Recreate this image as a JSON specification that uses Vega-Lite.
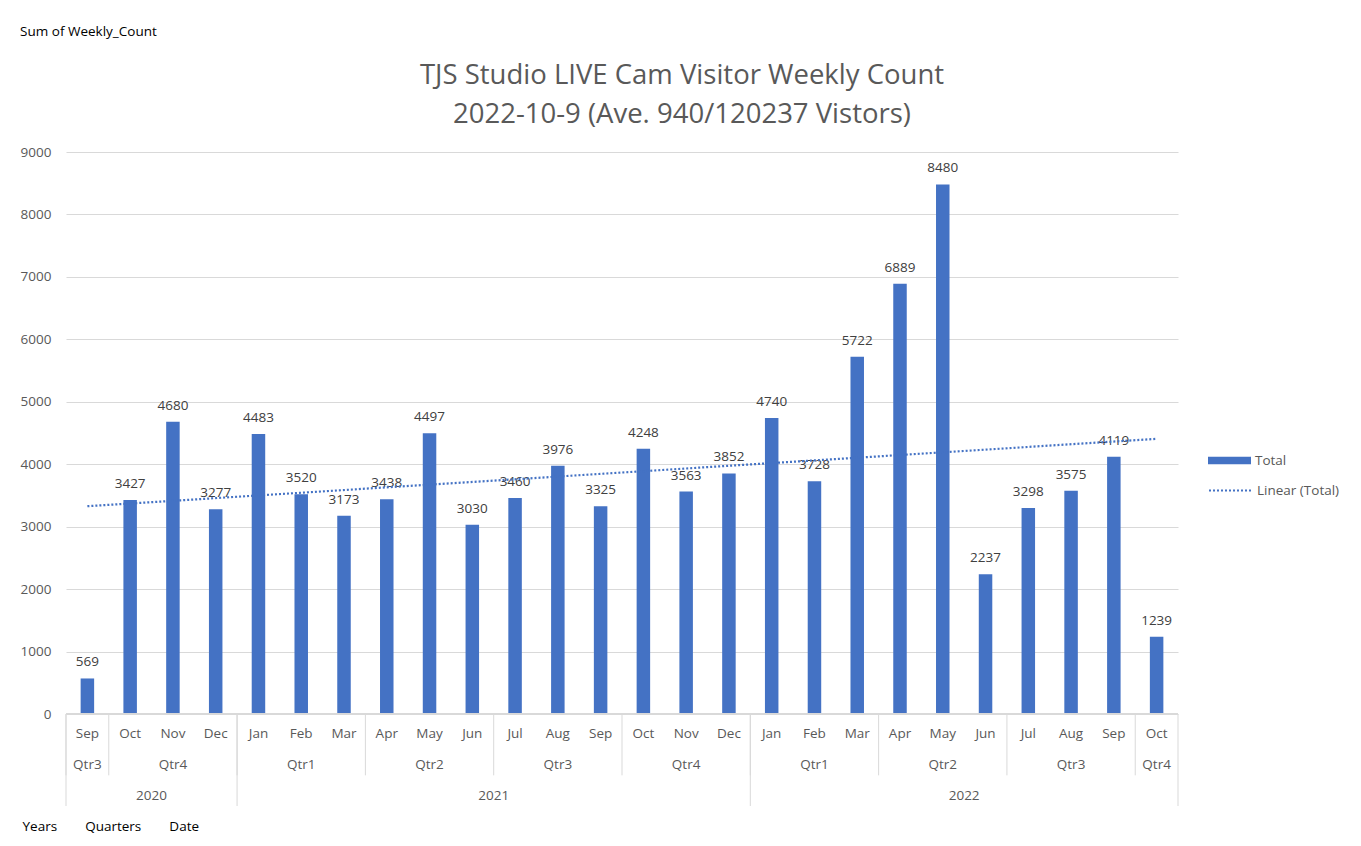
{
  "$schema": "https://vega.github.io/schema/vega-lite/v6.json",
  "background": "white",
  "padding": {"left": 20, "top": 25, "right": 5, "bottom": 5},
  "title": {"text": "Sum of Weekly_Count", "anchor": "start", "frame": "bounds", "fontSize": 13.5, "fontWeight": "normal", "color": "#000000", "font": "Open Sans", "offset": 23},
  "datasets": {
    "months": [
      {"i": 1, "month": "Sep", "quarter": "Qtr3", "year": "2020", "value": 569},
      {"i": 2, "month": "Oct", "quarter": "Qtr4", "year": "2020", "value": 3427},
      {"i": 3, "month": "Nov", "quarter": "Qtr4", "year": "2020", "value": 4680},
      {"i": 4, "month": "Dec", "quarter": "Qtr4", "year": "2020", "value": 3277},
      {"i": 5, "month": "Jan", "quarter": "Qtr1", "year": "2021", "value": 4483},
      {"i": 6, "month": "Feb", "quarter": "Qtr1", "year": "2021", "value": 3520},
      {"i": 7, "month": "Mar", "quarter": "Qtr1", "year": "2021", "value": 3173},
      {"i": 8, "month": "Apr", "quarter": "Qtr2", "year": "2021", "value": 3438},
      {"i": 9, "month": "May", "quarter": "Qtr2", "year": "2021", "value": 4497},
      {"i": 10, "month": "Jun", "quarter": "Qtr2", "year": "2021", "value": 3030},
      {"i": 11, "month": "Jul", "quarter": "Qtr3", "year": "2021", "value": 3460},
      {"i": 12, "month": "Aug", "quarter": "Qtr3", "year": "2021", "value": 3976},
      {"i": 13, "month": "Sep", "quarter": "Qtr3", "year": "2021", "value": 3325},
      {"i": 14, "month": "Oct", "quarter": "Qtr4", "year": "2021", "value": 4248},
      {"i": 15, "month": "Nov", "quarter": "Qtr4", "year": "2021", "value": 3563},
      {"i": 16, "month": "Dec", "quarter": "Qtr4", "year": "2021", "value": 3852},
      {"i": 17, "month": "Jan", "quarter": "Qtr1", "year": "2022", "value": 4740},
      {"i": 18, "month": "Feb", "quarter": "Qtr1", "year": "2022", "value": 3728},
      {"i": 19, "month": "Mar", "quarter": "Qtr1", "year": "2022", "value": 5722},
      {"i": 20, "month": "Apr", "quarter": "Qtr2", "year": "2022", "value": 6889},
      {"i": 21, "month": "May", "quarter": "Qtr2", "year": "2022", "value": 8480},
      {"i": 22, "month": "Jun", "quarter": "Qtr2", "year": "2022", "value": 2237},
      {"i": 23, "month": "Jul", "quarter": "Qtr3", "year": "2022", "value": 3298},
      {"i": 24, "month": "Aug", "quarter": "Qtr3", "year": "2022", "value": 3575},
      {"i": 25, "month": "Sep", "quarter": "Qtr3", "year": "2022", "value": 4119},
      {"i": 26, "month": "Oct", "quarter": "Qtr4", "year": "2022", "value": 1239}
    ]
  },
  "data": {"name": "months"},
  "spacing": 0,
  "bounds": "flush",
  "resolve": {"legend": {"color": "independent", "strokeDash": "independent"}},
  "vconcat": [
    {
      "width": 1112,
      "height": 562,
      "title": {"text": ["TJS Studio LIVE Cam Visitor Weekly Count", "2022-10-9 (Ave. 940/120237 Vistors)"], "anchor": "middle", "frame": "group", "dx": 60, "fontSize": 27.5, "fontWeight": "normal", "color": "#595959", "font": "Open Sans", "lineHeight": 39, "offset": 17},
      "layer": [
        {
          "mark": {"type": "bar", "width": 13.5},
          "encoding": {
            "x": {"field": "i", "type": "ordinal", "scale": {"paddingInner": 0, "paddingOuter": 0}, "axis": null},
            "y": {"field": "value", "type": "quantitative", "scale": {"domain": [0, 9000], "nice": false}, "axis": {"values": [0, 1000, 2000, 3000, 4000, 5000, 6000, 7000, 8000, 9000], "title": null, "ticks": false, "domain": false, "labelPadding": 15, "gridColor": "#d9d9d9", "labelFontSize": 13.5, "labelColor": "#595959", "format": "d"}},
            "color": {"datum": "Total", "scale": {"range": ["#4472C4"]}, "legend": {"orient": "none", "legendX": 1142, "legendY": 287, "title": null, "symbolType": "M-1,-0.18H1V0.18H-1Z", "symbolSize": 1849, "symbolStrokeWidth": 0, "labelFontSize": 13.5, "labelColor": "#595959", "labelOffset": 4}}
          }
        },
        {
          "mark": {"type": "text", "dy": -12, "baseline": "alphabetic", "fontSize": 13.5, "color": "#404040"},
          "encoding": {
            "x": {"field": "i", "type": "ordinal", "scale": {"paddingInner": 0, "paddingOuter": 0}, "axis": null},
            "y": {"field": "value", "type": "quantitative"},
            "text": {"field": "value", "type": "quantitative", "format": "d"}
          }
        },
        {
          "transform": [{"regression": "value", "on": "i", "method": "linear"}],
          "mark": {"type": "line", "stroke": "#4472C4", "strokeWidth": 2.2},
          "encoding": {
            "x": {"field": "i", "type": "quantitative", "scale": {"domain": [0.5, 26.5], "nice": false, "zero": false}, "axis": null},
            "y": {"field": "value", "type": "quantitative"},
            "strokeDash": {"datum": "Linear (Total)", "scale": {"range": [[2, 2]]}, "legend": {"orient": "none", "legendX": 1142, "legendY": 316, "title": null, "symbolType": "stroke", "symbolSize": 1849, "symbolStrokeWidth": 2, "symbolStrokeColor": "#4472C4", "labelFontSize": 13.5, "labelColor": "#595959", "labelOffset": 4}}
          }
        }
      ],
      "resolve": {"scale": {"x": "independent"}}
    },
    {
      "width": 1112,
      "height": 92,
      "layer": [
        {
          "transform": [
            {"joinaggregate": [{"op": "min", "field": "i", "as": "qstart"}], "groupby": ["year", "quarter"]},
            {"joinaggregate": [{"op": "min", "field": "i", "as": "ystart"}], "groupby": ["year"]},
            {"joinaggregate": [{"op": "max", "field": "i", "as": "last"}]}
          ],
          "layer": [
            {
              "mark": {"type": "rule", "color": "#d9d9d9", "strokeWidth": 1},
              "encoding": {
                "x": {"field": "i", "type": "ordinal", "bandPosition": 0, "scale": {"paddingInner": 0, "paddingOuter": 0}, "axis": {"orient": "bottom", "labels": false, "ticks": false, "domain": false, "grid": false, "title": "Years\u00a0\u00a0\u00a0\u00a0\u00a0\u00a0\u00a0\u00a0Quarters\u00a0\u00a0\u00a0\u00a0\u00a0\u00a0\u00a0\u00a0Date", "titleAnchor": "start", "titleAlign": "left", "titleBaseline": "middle", "titleX": -44, "titleY": 20, "titleFontSize": 13.5, "titleFontWeight": "normal", "titleColor": "#000000", "titleFont": "Open Sans"}},
                "y": {"datum": 0, "type": "quantitative", "scale": {"domain": [0, 3], "reverse": true, "nice": false, "zero": false}, "axis": null},
                "y2": {"datum": 2},
                "strokeOpacity": {"condition": {"test": "datum.i == datum.qstart", "value": 1}, "value": 0}
              }
            },
            {
              "mark": {"type": "rule", "color": "#d9d9d9", "strokeWidth": 1},
              "encoding": {
                "x": {"field": "i", "type": "ordinal", "bandPosition": 0},
                "y": {"datum": 0, "type": "quantitative"},
                "y2": {"datum": 3},
                "strokeOpacity": {"condition": {"test": "datum.i == datum.ystart", "value": 1}, "value": 0}
              }
            },
            {
              "mark": {"type": "rule", "color": "#d9d9d9", "strokeWidth": 1},
              "encoding": {
                "x": {"field": "i", "type": "ordinal", "bandPosition": 1},
                "y": {"datum": 0, "type": "quantitative"},
                "y2": {"datum": 3},
                "strokeOpacity": {"condition": {"test": "datum.i == datum.last", "value": 1}, "value": 0}
              }
            },
            {
              "mark": {"type": "rule", "color": "#d9d9d9", "strokeWidth": 1},
              "encoding": {
                "y": {"datum": 0, "type": "quantitative"}
              }
            }
          ]
        },
        {
          "layer": [
            {
              "mark": {"type": "text", "fontSize": 13.5, "color": "#595959", "baseline": "middle", "dy": 5},
              "encoding": {
                "x": {"field": "i", "type": "quantitative", "scale": {"domain": [0.5, 26.5], "nice": false, "zero": false}, "axis": null},
                "y": {"datum": 0.5, "type": "quantitative"},
                "text": {"field": "month"}
              }
            },
            {
              "transform": [{"aggregate": [{"op": "mean", "field": "i", "as": "mid"}], "groupby": ["year", "quarter"]}],
              "mark": {"type": "text", "fontSize": 13.5, "color": "#595959", "baseline": "middle", "dy": 5},
              "encoding": {
                "x": {"field": "mid", "type": "quantitative"},
                "y": {"datum": 1.5, "type": "quantitative"},
                "text": {"field": "quarter"}
              }
            },
            {
              "transform": [{"aggregate": [{"op": "mean", "field": "i", "as": "mid"}], "groupby": ["year"]}],
              "mark": {"type": "text", "fontSize": 13.5, "color": "#595959", "baseline": "middle", "dy": 5},
              "encoding": {
                "x": {"field": "mid", "type": "quantitative"},
                "y": {"datum": 2.5, "type": "quantitative"},
                "text": {"field": "year"}
              }
            }
          ]
        }
      ],
      "resolve": {"scale": {"x": "independent"}}
    }
  ],
  "config": {
    "font": "Open Sans",
    "view": {"stroke": null},
    "axis": {"labelFont": "Open Sans"},
    "legend": {"labelFont": "Open Sans"}
  }
}
